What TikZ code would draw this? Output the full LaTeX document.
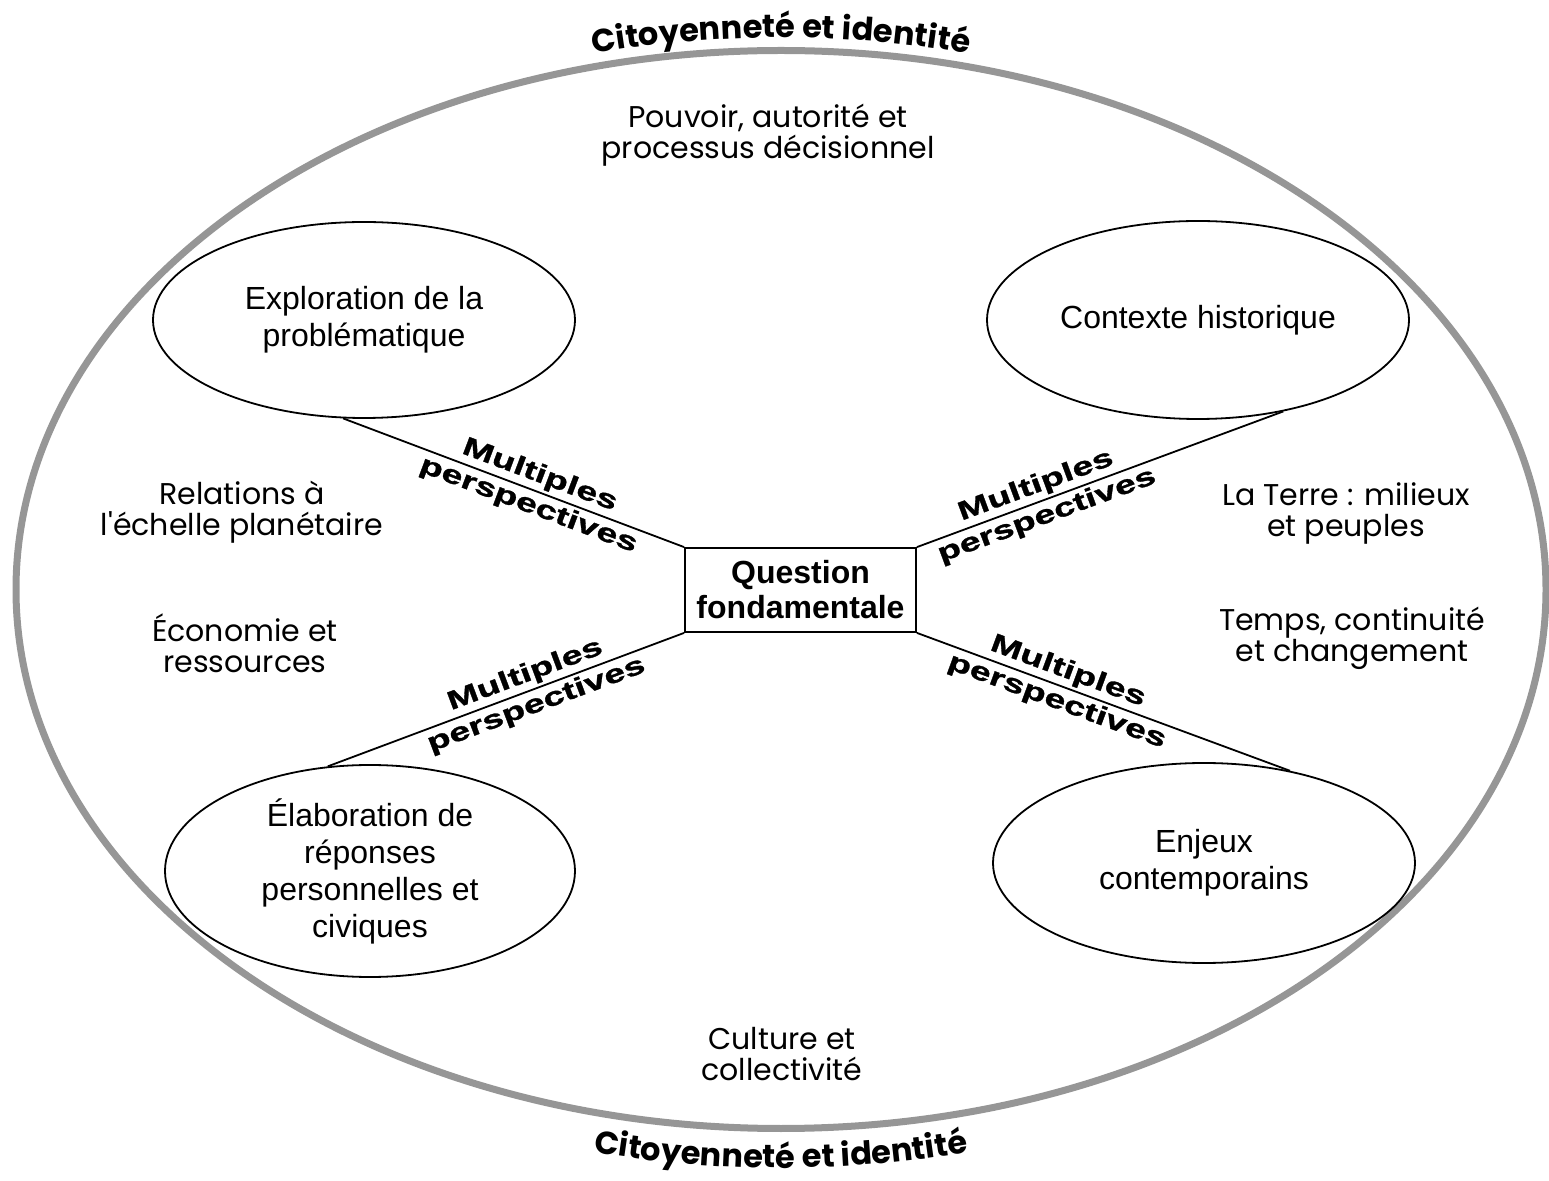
\documentclass[tikz,border=0pt]{standalone}
\usepackage{fontspec}
\setmainfont{Liberation Sans}
\newfontfamily\comicfont{Poppins}
\newfontfamily\perspfont{Liberation Sans Bold}[FakeStretch=1.45,FakeBold=1.2]
\usetikzlibrary{shapes.geometric,decorations.text,calc}
\definecolor{grisbord}{RGB}{150,150,150}

\begin{document}
\begin{tikzpicture}[x=0.5pt,y=-0.5pt,
  bulle/.style={draw,ellipse,line width=0.9pt,inner sep=0pt,align=center,font=\fontsize{16}{18.5}\selectfont},
  theme/.style={align=center,font=\comicfont\fontsize{15}{15.5}\selectfont},
  persp/.style={sloped,align=center,font=\perspfont\fontsize{13}{16}\selectfont},
  question/.style={draw,line width=0.9pt,minimum width=115.5pt,minimum height=42pt,align=center,font=\bfseries\fontsize{16}{17.5}\selectfont},
  lien/.style={line width=0.9pt}]
\useasboundingbox (0,0) rectangle (1549,1181);
%% grande ellipse
\coordinate (C) at (781,589.5);
\draw[line width=3.5pt,color=grisbord] (C) ellipse [x radius=382.5pt,y radius=269.5pt];
\path[decorate,decoration={text along path,text align=center,
  text={|\comicfont\bfseries\fontsize{16}{18}\selectfont|Citoyenneté et identité}}]
  ($(C)+(108:389pt and 276pt)$) arc[start angle=108,end angle=72,x radius=389pt,y radius=276pt];
\path[decorate,decoration={text along path,text align=center,
  text={|\comicfont\bfseries\fontsize{16}{18}\selectfont|Citoyenneté et identité}}]
  ($(C)+(252:402pt and 289.25pt)$) arc[start angle=252,end angle=288,x radius=402pt,y radius=289.25pt];
%% themes
\node[theme] (pouvoir) at (768,135) {Pouvoir, autorité et\\processus décisionnel};
\node[theme] (relations) at (242,512) {Relations à\\l\textquotesingle échelle planétaire};
\node[theme] (economie) at (245,643) {Économie et\\ressources};
\node[theme] (terre) at (1346,513) {La Terre : milieux\\et peuples};
\node[theme] (temps) at (1352,638) {Temps, continuité\\et changement};
\node[theme] (culture) at (782,1054) {Culture et\\collectivité};
%% bulles
\node[bulle,minimum width=211pt,minimum height=98pt] (explo) at (364,320) {Exploration de la\\problématique};
\node[bulle,minimum width=211pt,minimum height=99pt] (contexte) at (1198,320) {Contexte historique};
\node[bulle,minimum width=205pt,minimum height=106pt] (elabo) at (370,871) {Élaboration de\\réponses\\personnelles et\\civiques};
\node[bulle,minimum width=211pt,minimum height=100pt] (enjeux) at (1204,863) {Enjeux\\contemporains};
\node[question] (question) at (800.5,590) {Question\\fondamentale};
%% liens
\draw[lien] (question.north west) -- (explo.-102) node[persp,pos=0.44] {Multiples\\perspectives};
\draw[lien] (question.north east) -- (contexte.-47) node[persp,pos=0.34] {Multiples\\perspectives};
\draw[lien] (question.south west) -- (elabo.112) node[persp,pos=0.43] {Multiples\\perspectives};
\draw[lien] (question.south east) -- (enjeux.47) node[persp,pos=0.39] {Multiples\\perspectives};
\end{tikzpicture}
\end{document}
